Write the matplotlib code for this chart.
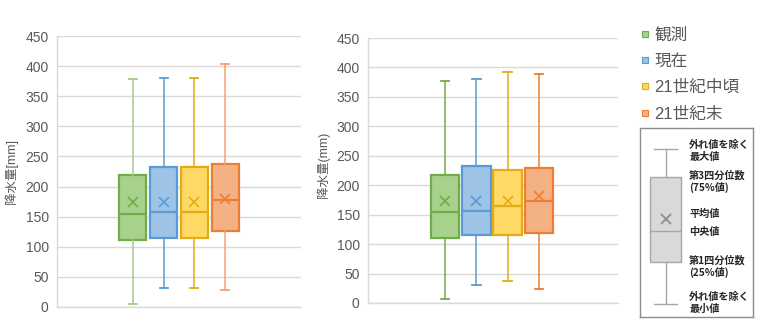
import matplotlib
matplotlib.use("Agg")
import matplotlib.pyplot as plt
from matplotlib.lines import Line2D

plt.rcParams['font.family'] = ['Liberation Sans', 'Noto Sans CJK JP', 'DejaVu Sans']

# Series
series = ["観測", "現在", "21世紀中頃", "21世紀末"]
fills = ["#A9D18E", "#9DC3E6", "#FFD966", "#F4B183"]
edges = ["#70AD47", "#5B9BD5", "#E2AC16", "#ED7D31"]
whisker_left = ["#A6C98C", "#5B9BD5", "#E2AC16", "#F2A276"]

# Left panel statistics (mm)
left_whislo = [5, 31, 31, 29]
left_q1 = [111, 115, 115, 126]
left_med = [154, 158, 158, 177]
left_q3 = [219, 233, 233, 238]
left_whishi = [378, 381, 381, 403]
left_mean = [174, 175, 175, 180]

# Right panel statistics (mm)
right_whislo = [6, 31, 37, 24]
right_q1 = [110, 115, 115, 119]
right_med = [154, 157, 165, 173]
right_q3 = [218, 233, 226, 230]
right_whishi = [377, 380, 392, 389]
right_mean = [173, 174, 174, 181]

yticks = [0, 50, 100, 150, 200, 250, 300, 350, 400, 450]

# Key diagram (schematic scale 0-100)
key_stats = dict(whislo=6.9, q1=28.9, med=45.5, q3=73.9, whishi=89.1, mean=52.1)
key_labels = [("外れ値を除く\n最大値", 87.8), ("第3四分位数\n(75%値)", 71.4),
              ("平均値", 54.3), ("中央値", 45.0),
              ("第1四分位数\n(25%値)", 26.7), ("外れ値を除く\n最小値", 7.5)]

W, H = 764, 328
fig = plt.figure(figsize=(W / 100, H / 100), dpi=100)

GRAY = "#595959"
GRID = "#D9D9D9"


def panel(rect, whislo, q1, med, q3, whishi, mean, xlim, width, wcolors, ylabel, ylabel_x, ylabel_y):
    ax = fig.add_axes([rect[0] / W, 1 - rect[3] / H, (rect[1] - rect[0]) / W, (rect[3] - rect[2]) / H])
    stats = [dict(whislo=a, q1=b, med=c, q3=d, whishi=e, mean=f)
             for a, b, c, d, e, f in zip(whislo, q1, med, q3, whishi, mean)]
    for i, st in enumerate(stats):
        ax.bxp([st], positions=[i], widths=width, showmeans=True, showfliers=False,
               patch_artist=True, capwidths=width * 0.3,
               boxprops=dict(facecolor=fills[i], edgecolor=edges[i], linewidth=1.6),
               medianprops=dict(color=edges[i], linewidth=1.6),
               whiskerprops=dict(color=wcolors[i], linewidth=1.1),
               capprops=dict(color=wcolors[i], linewidth=1.3),
               meanprops=dict(marker="x", markeredgecolor=edges[i], markersize=6.5,
                              markeredgewidth=1.2))
    ax.set_xlim(*xlim)
    ax.set_ylim(0, 450)
    ax.set_yticks(yticks)
    ax.set_xticks([])
    ax.yaxis.grid(True, color=GRID, linewidth=1.0)
    ax.set_axisbelow(True)
    for s in ("top", "right"):
        ax.spines[s].set_visible(False)
    for s in ("left", "bottom"):
        ax.spines[s].set_color(GRID)
        ax.spines[s].set_linewidth(1.0)
    ax.tick_params(axis="y", length=0, pad=6, labelsize=10, labelcolor=GRAY)
    ax.set_ylabel(ylabel, fontsize=9, color=GRAY)
    ax.yaxis.set_label_coords((ylabel_x - rect[0]) / (rect[1] - rect[0]), ylabel_y)
    return ax


panel((57, 301, 36, 307), left_whislo, left_q1, left_med, left_q3, left_whishi, left_mean,
      (-2.47, 5.47), 0.88, whisker_left, "降水量[mm]", 18, 0.5)
panel((368, 618, 38, 303), right_whislo, right_q1, right_med, right_q3, right_whishi, right_mean,
      (-2.45, 5.51), 0.91, edges, "降水量(mm)", 330, 0.52)

# Series legend
handles = [Line2D([], [], linestyle="none", marker="s", markersize=4.2,
                  markerfacecolor=f, markeredgecolor=e, markeredgewidth=0.8)
           for f, e in zip(fills, edges)]
fig.legend(handles, series, loc="upper left", bbox_to_anchor=(641 / W, 1 - 27 / H),
           frameon=False, fontsize=12, labelcolor=GRAY, handlelength=0.45,
           handletextpad=0.35, labelspacing=0.68, borderaxespad=0, borderpad=0)

# Key diagram explaining the box elements
kx0, kx1, ky0, ky1 = 640, 753, 128, 317
kax = fig.add_axes([kx0 / W, 1 - ky1 / H, (kx1 - kx0) / W, (ky1 - ky0) / H])
kax.bxp([key_stats], positions=[25.7], widths=30.7, capwidths=22.7, showmeans=True,
        showfliers=False, patch_artist=True,
        boxprops=dict(facecolor="#D9D9D9", edgecolor="#A6A6A6", linewidth=1.0),
        medianprops=dict(color="#A6A6A6", linewidth=1.0),
        whiskerprops=dict(color="#A6A6A6", linewidth=1.0),
        capprops=dict(color="#A6A6A6", linewidth=1.0),
        meanprops=dict(marker="x", markeredgecolor="#8C8C8C", markersize=6.5,
                       markeredgewidth=1.3))
kax.set_xlim(0, kx1 - kx0)
kax.set_ylim(0, 100)
kax.set_xticks([])
kax.set_yticks([])
for s in kax.spines.values():
    s.set_color("#8C8C8C")
    s.set_linewidth(1.0)
for text, yv in key_labels:
    kax.text(49.3, yv, text, fontsize=7.3, color="#262626", va="center", ha="left",
             fontweight="bold", linespacing=1.15, family=['Noto Sans CJK JP', 'DejaVu Sans'])

fig.savefig("out.png", dpi=100)
